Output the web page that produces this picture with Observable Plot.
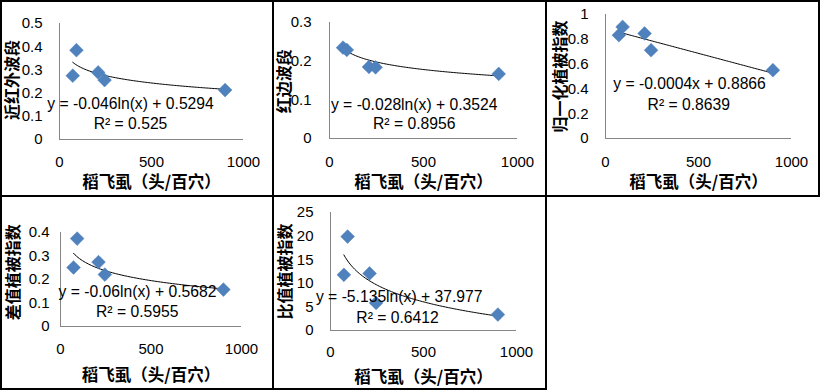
<!DOCTYPE html>
<html>
<head>
<meta charset="utf-8">
<script src="https://cdn.jsdelivr.net/npm/d3@7"></script>
<script src="https://cdn.jsdelivr.net/npm/@observablehq/plot@0.6"></script>
<style>
  html, body { margin: 0; padding: 0; background: #fff; }
  #wrap { position: relative; width: 820px; height: 391px; overflow: hidden; }
  .cell { position: absolute; box-sizing: border-box; border: 2px solid #000; pointer-events: none; z-index: 2; }
  .plot { position: absolute; z-index: 1; }
  .plot svg { background: transparent !important; overflow: visible; }
</style>
</head>
<body>
<div id="wrap"></div>
<script>
// ---- data ----
const planthopperDensity = [72, 92, 210, 245, 900];          // 稻飞虱（头/百穴）
const nirValues      = [0.275, 0.385, 0.289, 0.256, 0.213];  // 近红外波段
const redEdgeValues  = [0.235, 0.229, 0.185, 0.184, 0.167];  // 红边波段
const ndviValues     = [0.833, 0.900, 0.847, 0.712, 0.551];  // 归一化植被指数
const dviValues      = [0.251, 0.374, 0.274, 0.221, 0.157];  // 差值植被指数
const rviValues      = [11.8, 19.9, 12.1, 5.85, 3.38];       // 比值植被指数

const yAxisTitles = ["近红外波段", "红边波段", "归一化植被指数", "差值植被指数", "比值植被指数"];
const xAxisTitle = "稻飞虱（头/百穴）";
const xTickValues = [0, 500, 1000];
const yTickSets = [
  [0, 0.1, 0.2, 0.3, 0.4, 0.5],
  [0, 0.1, 0.2, 0.3],
  [0, 0.2, 0.4, 0.6, 0.8, 1],
  [0, 0.1, 0.2, 0.3, 0.4],
  [0, 5, 10, 15, 20, 25]
];
const fitTypes      = ["log", "log", "linear", "log", "log"];
const fitSlopes     = [-0.046, -0.028, -0.0004, -0.06, -5.135];
const fitIntercepts = [0.5294, 0.3524, 0.8866, 0.5682, 37.977];
const equationTexts = [
  "y = -0.046ln(x) + 0.5294",
  "y = -0.028ln(x) + 0.3524",
  "y = -0.0004x + 0.8866",
  "y = -0.06ln(x) + 0.5682",
  "y = -5.135ln(x) + 37.977"
];
const r2Texts = ["R² = 0.525", "R² = 0.8956", "R² = 0.8639", "R² = 0.5955", "R² = 0.6412"];
const seriesValues = [nirValues, redEdgeValues, ndviValues, dviValues, rviValues];

// ---- layout (pixels) ----
const layout = [
  {left: 0,   top: 0,   w: 272, h: 195, mL: 59, mR: 29, mT: 23, mB: 56, pad: 17, eq: [130, 103], r2: [130, 123], yl: [12, 79.5], xtY: 162, xlY: 182.7},
  {left: 272, top: 0,   w: 273, h: 195, mL: 57, mR: 28, mT: 22, mB: 57, pad: 18, eq: [141.7, 104.3], r2: [141.7, 123.3], yl: [12, 80.8], xtY: 162.3, xlY: 182.7},
  {left: 545, top: 0,   w: 274, h: 195, mL: 60, mR: 28, mT: 14, mB: 57, pad: 17, eq: [144, 83.3], r2: [143.3, 104.3], yl: [15, 76], xtY: 162.3, xlY: 182.7},
  {left: 0,   top: 195, w: 272, h: 194, mL: 60, mR: 31, mT: 37, mB: 63, pad: 11, eq: [137, 96.7], r2: [136.7, 116.7], yl: [13, 76.7], xtY: 154, xlY: 180.7},
  {left: 272, top: 195, w: 273, h: 194, mL: 58, mR: 29, mT: 17, mB: 59, pad: 17, eq: [126.7, 101.7], r2: [125, 122.7], yl: [13.5, 76], xtY: 156.7, xlY: 182.7}
];

const numFont = "'Liberation Sans', Arial, sans-serif";
const cjkFont = "'Noto Sans CJK SC', sans-serif";
const fmt = d => String(+d.toFixed(3));

const wrap = document.getElementById("wrap");

layout.forEach((L, i) => {
  const pts = planthopperDensity.map((x, k) => ({x, y: seriesValues[i][k]}));
  const yTicks = yTickSets[i];
  const yMax = yTicks[yTicks.length - 1];
  const xs = d3.extent(planthopperDensity);
  const fit = x => fitTypes[i] === "log" ? fitSlopes[i] * Math.log(x) + fitIntercepts[i] : fitSlopes[i] * x + fitIntercepts[i];
  const curve = d3.range(0, 101).map(t => {
    const x = xs[0] + (xs[1] - xs[0]) * t / 100;
    return {x, y: fit(x)};
  });
  const cx = L.mL + (L.w - L.mL - L.mR) / 2;
  const plot = Plot.plot({
    width: L.w,
    height: L.h,
    marginLeft: L.mL,
    marginRight: L.mR,
    marginTop: L.mT,
    marginBottom: L.mB,
    style: {fontFamily: numFont, fontSize: "15px", color: "#000", background: "transparent"},
    x: {domain: [0, 1000]},
    y: {domain: [0, yMax]},
    marks: [
      Plot.ruleX([0], {y1: 0, y2: yMax, stroke: "#868686", strokeWidth: 1}),
      Plot.ruleY([0], {x1: 0, x2: 1000, stroke: "#868686", strokeWidth: 1}),
      Plot.axisY({ticks: yTicks, tickSize: 0, tickPadding: L.pad, tickFormat: fmt, label: null, fontSize: 15}),
      Plot.axisX({ticks: xTickValues, tickSize: 0, tickPadding: L.xtY - (L.h - L.mB) - 6, tickFormat: fmt, label: null, fontSize: 15}),
      Plot.line(curve, {x: "x", y: "y", stroke: "#000", strokeWidth: 1}),
      Plot.dot(pts, {x: "x", y: "y", symbol: "diamond2", r: 6.2, fill: "#4f81bd", stroke: "#4a7ebb", strokeWidth: 0.5}),
      Plot.text([equationTexts[i]], {text: d => d, frameAnchor: "top-left", dx: L.eq[0] - L.mL, dy: L.eq[1] - L.mT, textAnchor: "middle", lineAnchor: "middle", fontSize: 15.7, fill: "#000"}),
      Plot.text([r2Texts[i]], {text: d => d, frameAnchor: "top-left", dx: L.r2[0] - L.mL, dy: L.r2[1] - L.mT, textAnchor: "middle", lineAnchor: "middle", fontSize: 15.7, fill: "#000"}),
      Plot.text([yAxisTitles[i]], {text: d => d, frameAnchor: "top-left", dx: L.yl[0] - L.mL, dy: L.yl[1] - L.mT, rotate: -90, textAnchor: "middle", lineAnchor: "middle", fontSize: 16, fontWeight: "bold", fontFamily: cjkFont, fill: "#000"}),
      Plot.text([xAxisTitle], {text: d => d, frameAnchor: "top-left", dx: cx - L.mL, dy: L.xlY - L.mT, textAnchor: "middle", lineAnchor: "middle", fontSize: 16.5, fontWeight: "bold", fontFamily: cjkFont, fill: "#000"})
    ]
  });
  const holder = document.createElement("div");
  holder.className = "plot";
  holder.style.left = L.left + "px";
  holder.style.top = L.top + "px";
  holder.appendChild(plot);
  wrap.appendChild(holder);
});

// cell borders
const cells = [
  [0, 0, 274, 197], [272, 0, 275, 197], [545, 0, 275, 197],
  [0, 195, 274, 195], [272, 195, 275, 195]
];
cells.forEach(([l, t, w, h]) => {
  const c = document.createElement("div");
  c.className = "cell";
  Object.assign(c.style, {left: l + "px", top: t + "px", width: w + "px", height: h + "px"});
  wrap.appendChild(c);
});
</script>
</body>
</html>
